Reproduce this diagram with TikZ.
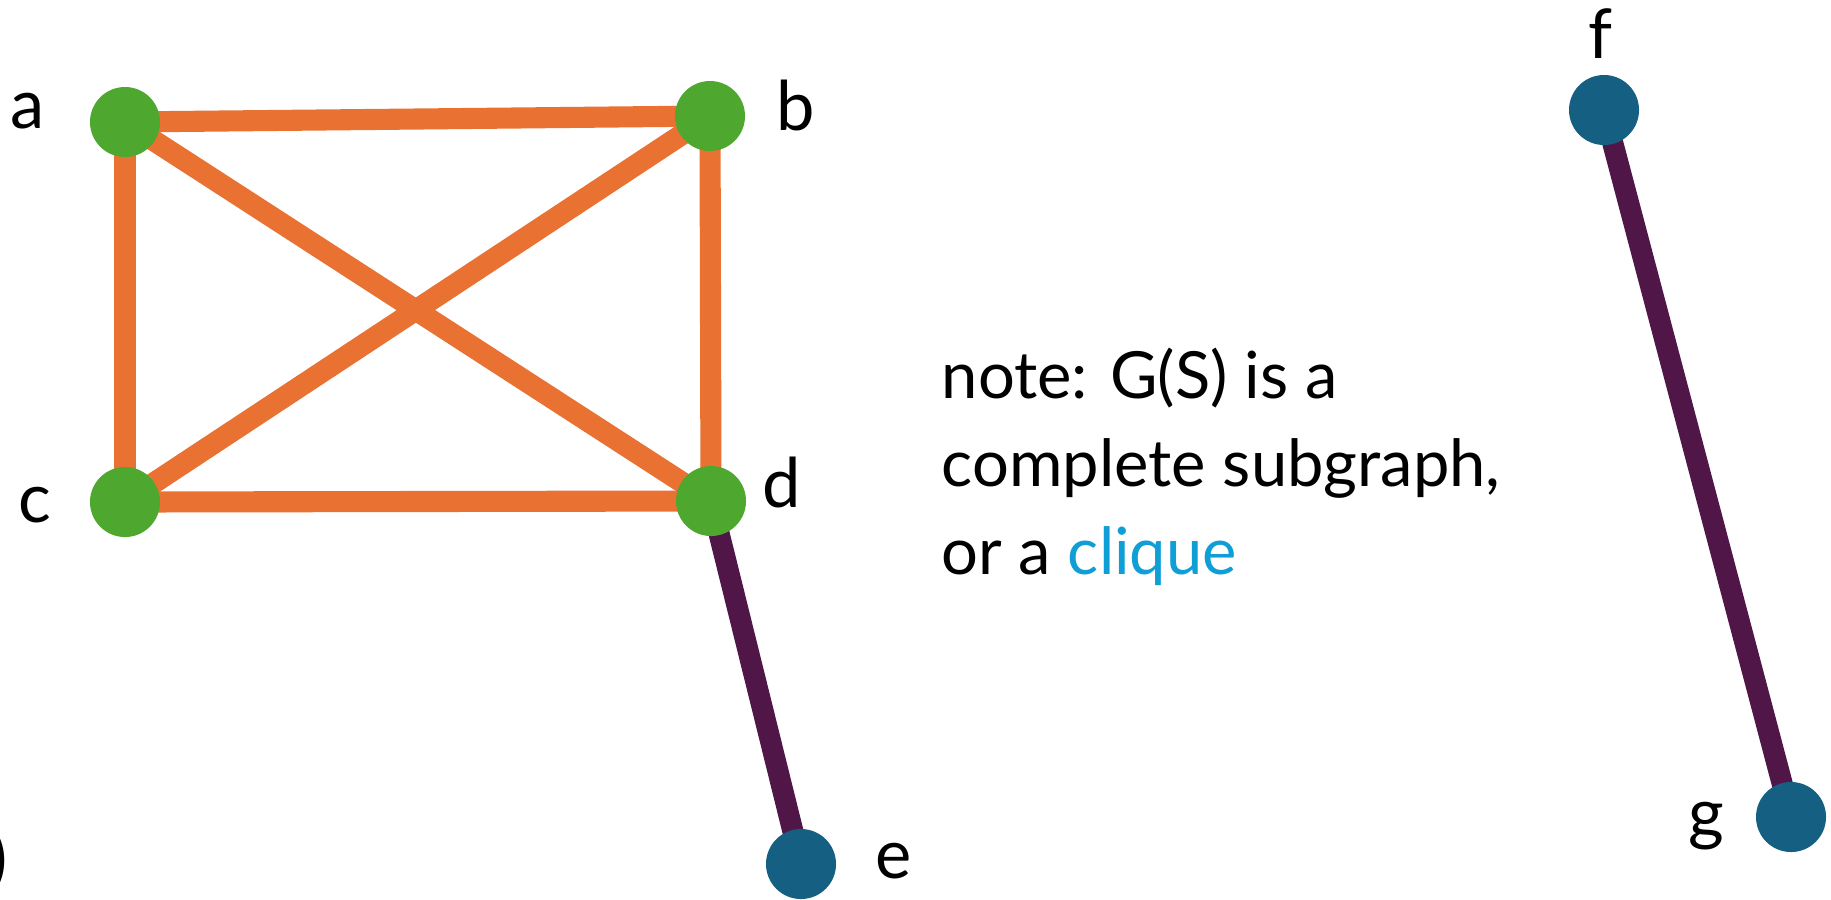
\documentclass[tikz,border=0pt]{standalone}
\usepackage{fontspec}
\setmainfont{Lato}
\usepackage{xcolor}
\usepackage{tikz}
\usetikzlibrary{backgrounds}
\definecolor{cqGreen}{RGB}{ 78,167, 46}
\definecolor{cqOrange}{RGB}{233,113, 50}
\definecolor{cqPlum}{RGB}{ 80, 22, 72}
\definecolor{cqTeal}{RGB}{ 21, 96,130}
\definecolor{cqBlue}{RGB}{ 15,158,213}

\begin{document}
\begin{tikzpicture}[
    x=0.01cm, y=-0.01cm,
    vtx/.style={circle, inner sep=0pt, minimum size=0.7cm},
    inS/.style={vtx, fill=cqGreen},
    outS/.style={vtx, fill=cqTeal},
    lbl/.style={anchor=base, inner sep=0pt, font=\fontsize{19.5}{23}\selectfont},
    clq/.style={line width=6pt, cqOrange},
    rest/.style={line width=6pt, cqPlum}
  ]
  \useasboundingbox (0,0) rectangle (1831,899);
  % vertices
  \node[inS]  (a) at (125,122) {};
  \node[inS]  (b) at (710,116) {};
  \node[inS]  (c) at (125,502) {};
  \node[inS]  (d) at (711,501) {};
  \node[outS] (e) at (801,864) {};
  \node[outS] (f) at (1604,110) {};
  \node[outS] (g) at (1791,817) {};
  % names
  \node[lbl] (la) at (28,128) {a};
  \node[lbl] (lb) at (796,130) {b};
  \node[lbl] (lc) at (35,522) {c};
  \node[lbl] (ld) at (782,507) {d};
  \node[lbl] (le) at (894,878) {e};
  \node[lbl] (lf) at (1600,58) {f};
  \node[lbl] (lg) at (1706,837) {g};
  \node[lbl] (cut) at (-1,882) {)};
  % edges behind the vertices
  \begin{scope}[on background layer]
    \draw[clq] (a.center) -- (b.center);
    \draw[clq] (a.center) -- (c.center);
    \draw[clq] (a.center) -- (d.center);
    \draw[clq] (b.center) -- (c.center);
    \draw[clq] (b.center) -- (d.center);
    \draw[clq] (c.center) -- (d.center);
    \draw[rest] (d.center) -- (e.center);
    \draw[rest] (f.center) -- (g.center);
  \end{scope}
  % note (base = last line)
  \node[anchor=base west, inner sep=0pt, align=left,
        font=\fontsize{18.5}{25}\selectfont] (note) at (941,574)
    {note: G(S) is a\\complete subgraph,\\or a \textcolor{cqBlue}{clique}};
\end{tikzpicture}
\end{document}
